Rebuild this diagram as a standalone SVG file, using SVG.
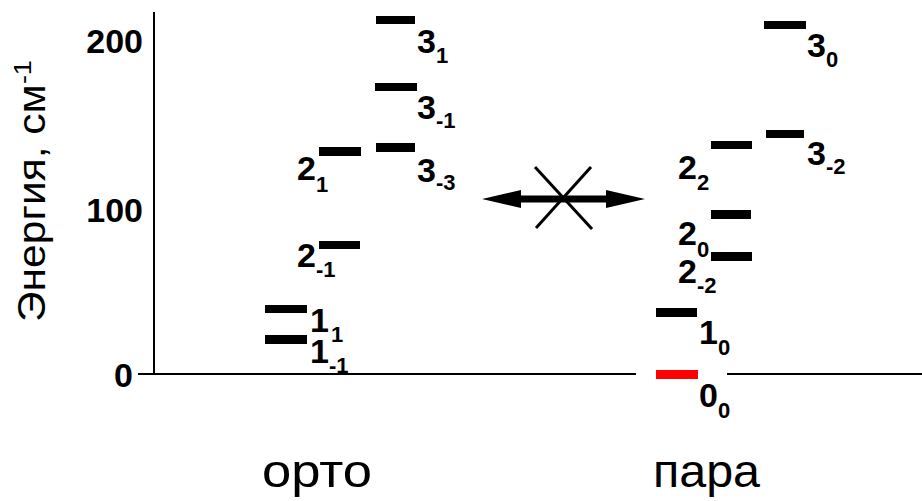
<svg xmlns="http://www.w3.org/2000/svg" width="922" height="501" viewBox="0 0 922 501">
  <style>
    .axis { stroke: #000; stroke-width: 2; fill: none; }
    .lvl { fill: #000; }
    .lvl0 { fill: #ff0000; }
    .tick { font-family: "Liberation Sans", Arial, sans-serif; font-weight: bold; font-size: 34px; fill: #000; }
    .lab { font-family: "Liberation Sans", Arial, sans-serif; font-weight: bold; font-size: 34px; fill: #000; }
    .sub { font-size: 22px; }
    .title { font-family: "Liberation Sans", Arial, sans-serif; font-size: 47px; fill: #000; }
    .ylab { font-family: "Liberation Sans", Arial, sans-serif; font-size: 38px; fill: #000; }
    .cross { stroke: #000; stroke-width: 3; fill: none; }
  </style>

  <!-- axes -->
  <g id="axes">
    <line class="axis" x1="154" y1="12" x2="154" y2="375"/>
    <line class="axis" x1="138" y1="374" x2="636" y2="374"/>
    <line class="axis" x1="727" y1="374" x2="922" y2="374"/>
    <text class="tick" x="143" y="53" text-anchor="end">200</text>
    <text class="tick" x="143" y="222" text-anchor="end">100</text>
    <text class="tick" x="133" y="387" text-anchor="end">0</text>
    <text class="ylab" transform="translate(45,322) rotate(-90) scale(1.12,1)">Энергия,  см<tspan font-size="24" dy="-14">-1</tspan></text>
  </g>

  <!-- ortho levels -->
  <g id="ortho">
    <g id="o-1m1"><rect class="lvl" x="265" y="335" width="42" height="9"/><text class="lab" x="310" y="363">1<tspan class="sub" dy="10">-1</tspan></text></g>
    <g id="o-11"><rect class="lvl" x="265" y="305" width="42" height="8"/><text class="lab" x="310" y="332">1<tspan class="sub" dx="2" dy="10">1</tspan></text></g>
    <g id="o-2m1"><rect class="lvl" x="319" y="241" width="41" height="8"/><text class="lab" x="297" y="267">2<tspan class="sub" dy="10">-1</tspan></text></g>
    <g id="o-21"><rect class="lvl" x="319" y="147" width="42" height="9"/><text class="lab" x="297" y="180">2<tspan class="sub" dy="12">1</tspan></text></g>
    <g id="o-3m3"><rect class="lvl" x="376" y="143" width="39" height="9"/><text class="lab" x="417" y="182">3<tspan class="sub" dy="8">-3</tspan></text></g>
    <g id="o-3m1"><rect class="lvl" x="375" y="83" width="42" height="8"/><text class="lab" x="417" y="119">3<tspan class="sub" dy="9">-1</tspan></text></g>
    <g id="o-31"><rect class="lvl" x="376" y="16" width="39" height="8"/><text class="lab" x="417" y="53">3<tspan class="sub" dy="10">1</tspan></text></g>
  </g>

  <!-- para levels -->
  <g id="para">
    <g id="p-00"><rect class="lvl0" x="656" y="370" width="42" height="9"/><text class="lab" x="699" y="407">0<tspan class="sub" dy="11">0</tspan></text></g>
    <g id="p-10"><rect class="lvl" x="656" y="308" width="41" height="9"/><text class="lab" x="699" y="344">1<tspan class="sub" dy="11">0</tspan></text></g>
    <g id="p-2m2"><rect class="lvl" x="711" y="252" width="41" height="9"/><text class="lab" x="678" y="283">2<tspan class="sub" dy="10">-2</tspan></text></g>
    <g id="p-20"><rect class="lvl" x="711" y="210" width="40" height="9"/><text class="lab" x="678" y="245">2<tspan class="sub" dy="12">0</tspan></text></g>
    <g id="p-22"><rect class="lvl" x="711" y="141" width="41" height="8"/><text class="lab" x="678" y="179">2<tspan class="sub" dy="11">2</tspan></text></g>
    <g id="p-3m2"><rect class="lvl" x="766" y="130" width="38" height="8"/><text class="lab" x="807" y="165">3<tspan class="sub" dy="9">-2</tspan></text></g>
    <g id="p-30"><rect class="lvl" x="764" y="21" width="42" height="8"/><text class="lab" x="807" y="57">3<tspan class="sub" dy="10">0</tspan></text></g>
  </g>

  <!-- forbidden transition: double arrow struck through -->
  <g id="connectors">
    <polygon fill="#000" points="482,199 521,190 521,195.5 606,195.5 606,190 645,199 606,208 606,202.5 521,202.5 521,208"/>
    <line class="cross" x1="535" y1="167" x2="592" y2="229"/>
    <line class="cross" x1="591" y1="167" x2="536" y2="228"/>
  </g>

  <g id="titles">
    <text class="title" x="262" y="487" textLength="110" lengthAdjust="spacingAndGlyphs">орто</text>
    <text class="title" x="653" y="487" textLength="107" lengthAdjust="spacingAndGlyphs">пара</text>
  </g>
</svg>
